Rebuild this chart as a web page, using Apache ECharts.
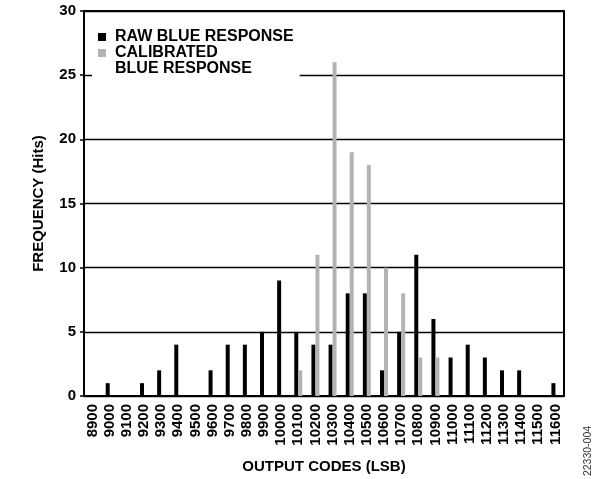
<!DOCTYPE html>
<html>
<head>
<meta charset="utf-8">
<script src="https://cdn.jsdelivr.net/npm/echarts@6/dist/echarts.min.js"></script>
<style>html,body{margin:0;padding:0;background:#fff;}#c{width:594px;height:479px;}</style>
</head>
<body>
<div id="c"></div>
<script>
const categories = ['8900','9000','9100','9200','9300','9400','9500','9600','9700','9800','9900','10000','10100','10200','10300','10400','10500','10600','10700','10800','10900','11000','11100','11200','11300','11400','11500','11600'];
const rawValues = [0,1,0,1,2,4,0,2,4,4,5,9,5,4,4,8,8,2,5,11,6,3,4,3,2,2,0,1];
const calibratedValues = [0,0,0,0,0,0,0,0,0,0,0,0,2,11,26,19,18,10,8,3,3,0,0,0,0,0,0,0];
const yTicks = [0,5,10,15,20,25,30];

const FONT = 'Liberation Sans, Arial, Helvetica, sans-serif';
const chart = echarts.init(document.getElementById('c'), null, {renderer: 'canvas'});
chart.setOption({
  animation: false,
  backgroundColor: '#fff',
  textStyle: {fontFamily: FONT},
  grid: {left: 84, right: 30, top: 11, bottom: 83, show: true, borderColor: '#000', borderWidth: 2, backgroundColor: 'transparent', containLabel: false, outerBoundsMode: 'none'},
  legend: {
    orient: 'vertical', left: 92, top: 25, itemWidth: 8, itemHeight: 8, itemGap: -16,
    backgroundColor: '#fff', padding: [4, 6, 3, 6],
    icon: 'rect',
    data: [
      {name: 'RAW BLUE RESPONSE'},
      {name: 'CALIBRATED BLUE RESPONSE'}
    ],
    formatter: function (n) { return n === 'RAW BLUE RESPONSE' ? n : '\nCALIBRATED\nBLUE RESPONSE'; },
    textStyle: {fontFamily: FONT, fontSize: 16, fontWeight: 'bold', color: '#000', lineHeight: 16, padding: [0, 0, 0, 4]}
  },
  xAxis: {
    type: 'category', data: categories,
    axisLine: {lineStyle: {color: '#000', width: 2}},
    axisTick: {show: false},
    axisLabel: {rotate: 90, interval: 0, fontSize: 15, fontWeight: 'bold', color: '#000', margin: 8, fontFamily: FONT},
    name: 'OUTPUT CODES (LSB)', nameLocation: 'middle', nameGap: 63, nameMoveOverlap: false,
    nameTextStyle: {fontSize: 15, fontWeight: 'bold', color: '#000', fontFamily: FONT}
  },
  yAxis: {
    type: 'value', min: 0, max: 30, interval: 5,
    axisLine: {show: true, lineStyle: {color: '#000', width: 2}},
    axisTick: {show: true, length: 4, lineStyle: {color: '#000', width: 1.5}},
    splitLine: {show: true, lineStyle: {color: '#000', width: 1.3}},
    axisLabel: {fontSize: 15, fontWeight: 'bold', color: '#000', margin: 8, fontFamily: FONT,
      formatter: function (v) { return yTicks.indexOf(v) >= 0 ? String(v) : ''; }},
    name: 'FREQUENCY (Hits)', nameLocation: 'middle', nameGap: 38, nameRotate: 90, nameMoveOverlap: false,
    nameTextStyle: {fontSize: 15, fontWeight: 'bold', color: '#000', fontFamily: FONT}
  },
  series: [
    {name: 'RAW BLUE RESPONSE', type: 'bar', data: rawValues, barWidth: 4, barGap: '0%', itemStyle: {color: '#000'}},
    {name: 'CALIBRATED BLUE RESPONSE', type: 'bar', data: calibratedValues, barWidth: 4, barGap: '0%', itemStyle: {color: '#b3b3b3'}}
  ],
  graphic: [{
    type: 'text', x: 588, y: 451, rotation: Math.PI / 2,
    style: {text: '22330-004', fontSize: 10.5, fill: '#333', fontFamily: FONT, align: 'center', verticalAlign: 'middle'}
  }]
});
</script>
</body>
</html>
